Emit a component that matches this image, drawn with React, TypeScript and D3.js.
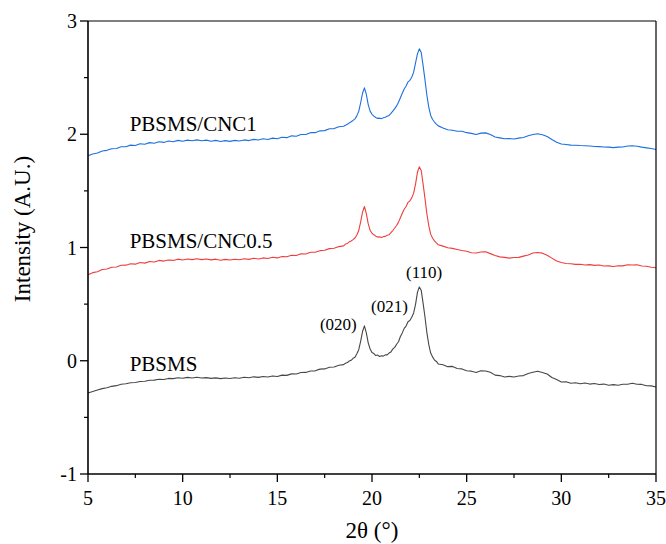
import React from 'react';
import * as d3 from 'd3';

// 2θ sampling grid: coarse on the flat parts, finer through the peaks
const twoTheta: number[] = [
  ...d3.range(0, 55).map(i => 5 + i * 0.25),
  ...d3.range(0, 50).map(i => +(18.6 + i * 0.1).toFixed(1)),
  ...d3.range(0, 46).map(i => 23.75 + i * 0.25),
];

const pbsms = [
  -0.285, -0.272, -0.258, -0.246, -0.238, -0.226, -0.220, -0.208, -0.203, -0.194,
  -0.192, -0.183, -0.181, -0.172, -0.171, -0.163, -0.165, -0.156, -0.158, -0.150,
  -0.154, -0.147, -0.152, -0.146, -0.153, -0.149, -0.156, -0.151, -0.158, -0.152,
  -0.157, -0.150, -0.154, -0.146, -0.150, -0.142, -0.147, -0.139, -0.143, -0.134,
  -0.139, -0.127, -0.129, -0.116, -0.117, -0.104, -0.103, -0.090, -0.089, -0.074,
  -0.072, -0.058, -0.055, -0.040, -0.034,
  -0.022, -0.016, -0.002, 0.004, 0.022, 0.030, 0.062, 0.098, 0.172, 0.258,
  0.308, 0.246, 0.158, 0.104, 0.072, 0.064, 0.046, 0.050, 0.038, 0.044,
  0.041, 0.052, 0.052, 0.068, 0.078, 0.104, 0.118, 0.146, 0.168, 0.214,
  0.246, 0.286, 0.306, 0.344, 0.356, 0.384, 0.422, 0.498, 0.604, 0.652,
  0.622, 0.506, 0.384, 0.246, 0.142, 0.068, 0.034, 0.006, -0.006, -0.028,
  -0.036, -0.052, -0.050, -0.068, -0.072, -0.088, -0.092, -0.103, -0.088, -0.090,
  -0.102, -0.127, -0.131, -0.143, -0.138, -0.144, -0.134, -0.131, -0.112, -0.102,
  -0.092, -0.103, -0.117, -0.148, -0.166, -0.188, -0.186, -0.198, -0.194, -0.203,
  -0.197, -0.206, -0.201, -0.210, -0.206, -0.216, -0.211, -0.216, -0.207, -0.208,
  -0.199, -0.207, -0.209, -0.221, -0.222, -0.232,
];

const cnc05 = [
  0.760, 0.778, 0.786, 0.806, 0.810, 0.826, 0.828, 0.843, 0.844, 0.857,
  0.853, 0.868, 0.862, 0.876, 0.872, 0.886, 0.880, 0.890, 0.886, 0.897,
  0.890, 0.899, 0.893, 0.900, 0.893, 0.898, 0.891, 0.897, 0.888, 0.895,
  0.889, 0.896, 0.892, 0.900, 0.895, 0.905, 0.899, 0.908, 0.903, 0.914,
  0.908, 0.921, 0.918, 0.932, 0.929, 0.944, 0.943, 0.958, 0.958, 0.972,
  0.976, 0.990, 0.993, 1.008, 1.014,
  1.030, 1.036, 1.050, 1.058, 1.070, 1.084, 1.110, 1.150, 1.226, 1.312,
  1.362, 1.300, 1.210, 1.152, 1.126, 1.112, 1.100, 1.092, 1.094, 1.088,
  1.096, 1.098, 1.108, 1.112, 1.132, 1.150, 1.172, 1.194, 1.224, 1.262,
  1.302, 1.338, 1.362, 1.398, 1.410, 1.438, 1.480, 1.560, 1.664, 1.712,
  1.680, 1.560, 1.432, 1.296, 1.192, 1.118, 1.082, 1.058, 1.040, 1.024,
  1.012, 0.998, 0.992, 0.983, 0.974, 0.967, 0.954, 0.951, 0.960, 0.962,
  0.946, 0.929, 0.917, 0.913, 0.906, 0.912, 0.913, 0.924, 0.934, 0.951,
  0.956, 0.950, 0.932, 0.906, 0.880, 0.868, 0.859, 0.857, 0.851, 0.852,
  0.846, 0.849, 0.842, 0.845, 0.837, 0.838, 0.832, 0.839, 0.838, 0.847,
  0.846, 0.847, 0.836, 0.834, 0.826, 0.821,
];

const cnc1 = [
  1.810, 1.826, 1.834, 1.852, 1.858, 1.872, 1.874, 1.890, 1.890, 1.904,
  1.900, 1.916, 1.912, 1.926, 1.920, 1.934, 1.928, 1.940, 1.934, 1.946,
  1.938, 1.948, 1.942, 1.950, 1.942, 1.948, 1.938, 1.946, 1.936, 1.944,
  1.937, 1.946, 1.940, 1.950, 1.944, 1.955, 1.949, 1.960, 1.954, 1.966,
  1.960, 1.974, 1.970, 1.986, 1.982, 1.998, 1.998, 2.014, 2.014, 2.030,
  2.032, 2.048, 2.050, 2.066, 2.070,
  2.080, 2.088, 2.100, 2.110, 2.122, 2.136, 2.162, 2.202, 2.278, 2.362,
  2.410, 2.352, 2.262, 2.204, 2.176, 2.160, 2.148, 2.140, 2.142, 2.138,
  2.146, 2.150, 2.158, 2.166, 2.184, 2.204, 2.226, 2.250, 2.282, 2.322,
  2.362, 2.400, 2.426, 2.462, 2.476, 2.504, 2.548, 2.630, 2.710, 2.754,
  2.722, 2.604, 2.478, 2.342, 2.238, 2.166, 2.130, 2.108, 2.090, 2.074,
  2.056, 2.040, 2.036, 2.026, 2.026, 2.014, 2.008, 1.998, 2.010, 2.012,
  1.998, 1.976, 1.968, 1.960, 1.962, 1.958, 1.966, 1.972, 1.986, 1.998,
  2.004, 1.996, 1.980, 1.954, 1.930, 1.914, 1.910, 1.904, 1.903, 1.900,
  1.898, 1.896, 1.892, 1.891, 1.888, 1.886, 1.882, 1.886, 1.888, 1.896,
  1.898, 1.894, 1.886, 1.880, 1.874, 1.866,
];

const seriesNames = ['PBSMS', 'PBSMS/CNC0.5', 'PBSMS/CNC1'];
const seriesValues = [pbsms, cnc05, cnc1];
const seriesColors = ['#474747', '#ef3d3d', '#1e6fe0'];
// where each name sits: [2θ, intensity]
const seriesLabelAt: [number, number][] = [[7.2, -0.087], [7.2, 1.0], [7.2, 2.025]];

const peakNames = ['(020)', '(021)', '(110)'];
const peakLabelAt: [number, number][] = [[17.25, 0.274], [19.95, 0.433], [21.8, 0.733]];

const xTicks = [5, 10, 15, 20, 25, 30, 35];
const yTicks = [-1, 0, 1, 2, 3];

const W = 666;
const H = 544;
const margin = { top: 21, right: 10, bottom: 70, left: 88 };
const font = "'Liberation Serif', 'Times New Roman', Tinos, 'DejaVu Serif', serif";

export default function App() {
  const x = d3.scaleLinear().domain([5, 35]).range([margin.left, W - margin.right]);
  const y = d3.scaleLinear().domain([-1, 3]).range([H - margin.bottom, margin.top]);

  const line = d3.line<[number, number]>()
    .x(d => x(d[0]))
    .y(d => y(d[1]));

  const xMinor = d3.range(7.5, 35, 5);
  const yMinor = d3.range(-0.5, 3, 1);

  const x0 = x.range()[0], x1 = x.range()[1];
  const y0 = y.range()[0], y1 = y.range()[1];
  const ts = { fontFamily: font };

  return (
    <svg width={W} height={H} style={{ position: 'absolute', left: 0, top: 0, background: '#fff' }}>
      <rect x={0} y={0} width={W} height={H} fill="#fff" />

      {seriesValues.map((vals, i) => (
        <path key={seriesNames[i]}
          d={line(twoTheta.map((t, j) => [t, vals[j]] as [number, number])) || ''}
          fill="none" stroke={seriesColors[i]} strokeWidth={1.1} strokeLinejoin="round" />
      ))}

      {/* frame */}
      <line x1={x0} x2={x1} y1={y1} y2={y1} stroke="#000" strokeWidth={1.2} />
      <line x1={x1} x2={x1} y1={y1} y2={y0} stroke="#000" strokeWidth={1.2} />
      <line x1={x0} x2={x1} y1={y0} y2={y0} stroke="#000" strokeWidth={1.6} />
      <line x1={x0} x2={x0} y1={y1} y2={y0} stroke="#000" strokeWidth={1.6} />

      {/* x ticks */}
      {xTicks.map(t => (
        <g key={'xt' + t}>
          <line x1={x(t)} x2={x(t)} y1={y0} y2={y0 + 8} stroke="#000" strokeWidth={1.3} />
          <text x={x(t)} y={y0 + 31} fontSize={20} textAnchor="middle" style={ts}>{t}</text>
        </g>
      ))}
      {xMinor.map(t => (
        <line key={'xm' + t} x1={x(t)} x2={x(t)} y1={y0} y2={y0 + 4} stroke="#000" strokeWidth={1.2} />
      ))}

      {/* y ticks */}
      {yTicks.map(t => (
        <g key={'yt' + t}>
          <line x1={x0 - 8} x2={x0} y1={y(t)} y2={y(t)} stroke="#000" strokeWidth={1.3} />
          <text x={x0 - 11} y={y(t)} dy="0.35em" fontSize={20} textAnchor="end" style={ts}>{t}</text>
        </g>
      ))}
      {yMinor.map(t => (
        <line key={'ym' + t} x1={x0 - 4} x2={x0} y1={y(t)} y2={y(t)} stroke="#000" strokeWidth={1.2} />
      ))}

      {/* axis titles */}
      <text transform={`translate(30,229) rotate(-90)`} fontSize={23} textAnchor="middle" style={ts}>Intensity (A.U.)</text>
      <text x={(x0 + x1) / 2} y={538} fontSize={23} textAnchor="middle" style={ts}>2θ (°)</text>

      {/* series names */}
      {seriesNames.map((n, i) => (
        <text key={'sn' + n} x={x(seriesLabelAt[i][0])} y={y(seriesLabelAt[i][1])} fontSize={21} style={ts}>{n}</text>
      ))}

      {/* peak indices */}
      {peakNames.map((n, i) => (
        <text key={'pk' + n} x={x(peakLabelAt[i][0])} y={y(peakLabelAt[i][1])} fontSize={17} style={ts}>{n}</text>
      ))}
    </svg>
  );
}
